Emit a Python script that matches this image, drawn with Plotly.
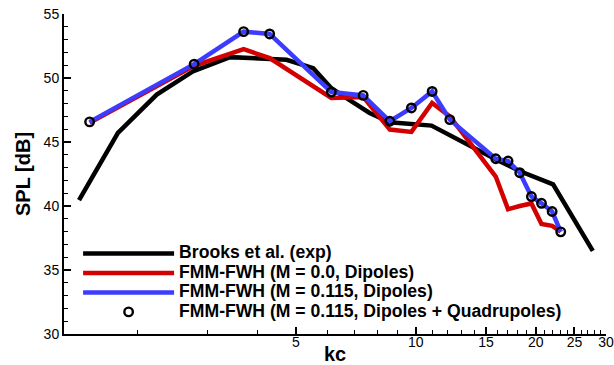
import plotly.graph_objects as go
import numpy as np

# Brooks et al. (exp)
exp_kc = [1.43, 1.79, 2.24, 2.76, 3.42, 4.0, 4.74, 5.53, 6.14, 6.90, 7.66, 8.61, 10.95, 15.9, 18.2, 22.1, 27.8]
exp_spl = [40.45, 45.72, 48.7, 50.51, 51.63, 51.55, 51.42, 50.77, 49.2, 48.18, 47.27, 46.54, 46.28, 43.64, 42.73, 41.69, 36.5]

# FMM-FWH sampling (kc)
sim_kc = [1.52, 2.78, 3.70, 4.30, 6.14, 7.38, 8.61, 9.75, 10.99, 12.17, 15.87, 17.04, 18.23, 19.50, 20.67, 21.98, 23.1]
# M = 0.0, dipoles
m0_spl = [46.5, 50.95, 52.25, 51.55, 48.44, 48.52, 45.97, 45.79, 48.05, 47.0, 42.3, 39.75, 40.0, 40.2, 38.6, 38.45, 38.0]
# M = 0.115, dipoles
m115_spl = [46.57, 51.08, 53.62, 53.44, 48.9, 48.64, 46.62, 47.66, 48.95, 46.75, 43.69, 43.51, 42.6, 40.74, 40.21, 39.57, 37.98]
# M = 0.115, dipoles + quadrupoles
m115q_spl = [46.57, 51.08, 53.62, 53.44, 48.9, 48.64, 46.62, 47.66, 48.95, 46.75, 43.69, 43.51, 42.6, 40.74, 40.21, 39.57, 37.98]

names = ["Brooks et al. (exp)", "FMM-FWH (M = 0.0, Dipoles)",
         "FMM-FWH (M = 0.115, Dipoles)", "FMM-FWH (M = 0.115, Dipoles + Quadrupoles)"]

x_major = [5, 10, 15, 20, 25, 30]
x_minor = [2, 3, 4, 6, 7, 8, 9, 11, 12, 13, 14, 16, 17, 18, 19, 21, 22, 23, 24, 26, 27, 28, 29]
y_major = [30, 35, 40, 45, 50, 55]


def lg(t):
    return '<span style="font-size:17.6px">' + t + '</span>'


fig = go.Figure()
fig.add_trace(go.Scatter(x=exp_kc, y=exp_spl, mode="lines", name=lg(names[0]),
                         line=dict(color="black", width=4.5)))
fig.add_trace(go.Scatter(x=sim_kc, y=m0_spl, mode="lines", name=lg(names[1]),
                         line=dict(color="rgb(210,0,0)", width=4.5)))
fig.add_trace(go.Scatter(x=sim_kc, y=m115_spl, mode="lines", name=lg(names[2]),
                         line=dict(color="rgb(60,60,255)", width=4.5)))
fig.add_trace(go.Scatter(x=sim_kc, y=m115q_spl, mode="markers", name=lg(names[3]),
                         marker=dict(symbol="circle-open", size=8.5, color="black",
                                     line=dict(width=2.4, color="black"))))

fig.update_layout(
    width=614, height=365,
    margin=dict(l=64, r=8, t=14, b=31, autoexpand=False),
    paper_bgcolor="white", plot_bgcolor="white",
    font=dict(family="Liberation Sans, Arial, sans-serif", color="black", size=14),
    showlegend=True,
    legend=dict(x=0.026, y=0.298, xanchor="left", yanchor="top",
                bgcolor="rgba(0,0,0,0)", borderwidth=0,
                font=dict(size=12.7, family="Liberation Sans, Arial, sans-serif", weight="bold"),
                itemwidth=91, tracegroupgap=0),
    xaxis=dict(type="log", range=[np.log10(1.311), np.log10(30)], automargin=False,
               tickmode="array", tickvals=x_major, ticktext=[str(v) for v in x_major],
               ticks="inside", ticklen=7, tickwidth=1.5, tickcolor="black",
               ticklabelstandoff=-6,
               showline=True, linecolor="black", linewidth=2, mirror=False,
               showgrid=False, zeroline=False,
               minor=dict(tickmode="array", tickvals=x_minor, ticks="inside", ticklen=4,
                          tickwidth=1, tickcolor="black", showgrid=False),
               tickfont=dict(size=14),
               title=dict(text="<b>kc</b>", font=dict(size=20), standoff=0)),
    yaxis=dict(range=[30, 55], tickmode="array", tickvals=y_major, automargin=False,
               ticks="inside", ticklen=7, tickwidth=1.5, tickcolor="black",
               showline=True, linecolor="black", linewidth=2, mirror=False,
               showgrid=False, zeroline=False,
               minor=dict(dtick=1, ticks="inside", ticklen=4, tickwidth=1,
                          tickcolor="black", showgrid=False),
               tickfont=dict(size=14),
               title=dict(text="<b>SPL [dB]</b>", font=dict(size=20), standoff=8)),
)

fig.write_html("out.html")
